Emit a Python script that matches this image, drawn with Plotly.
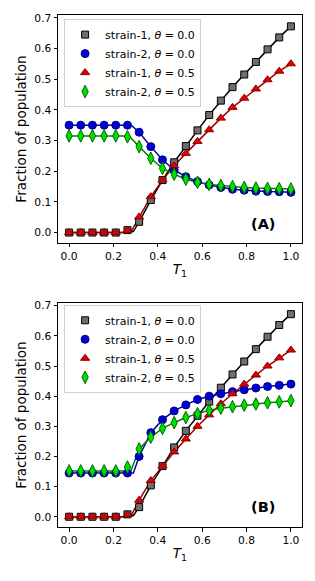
import plotly.graph_objects as go
from plotly.subplots import make_subplots

# ---- data ----
T1 = [0.0, 0.0526, 0.1053, 0.1579, 0.2105, 0.2632, 0.3158, 0.3684, 0.4211, 0.4737,
      0.5263, 0.5789, 0.6316, 0.6842, 0.7368, 0.7895, 0.8421, 0.8947, 0.9474, 1.0]

A_s1_t00 = [0.0, 0.0, 0.0, 0.0, 0.0, 0.008, 0.035, 0.106, 0.171, 0.229,
            0.282, 0.333, 0.383, 0.430, 0.474, 0.515, 0.556, 0.597, 0.636, 0.672]
A_s2_t00 = [0.350, 0.350, 0.350, 0.350, 0.350, 0.350, 0.327, 0.280, 0.237, 0.204,
            0.182, 0.166, 0.155, 0.147, 0.141, 0.138, 0.135, 0.134, 0.133, 0.131]
A_s1_t05 = [0.0, 0.0, 0.0, 0.0, 0.0, 0.007, 0.051, 0.117, 0.171, 0.218,
            0.258, 0.297, 0.335, 0.373, 0.408, 0.438, 0.468, 0.498, 0.526, 0.550]
A_s2_t05 = [0.315, 0.315, 0.315, 0.315, 0.315, 0.312, 0.280, 0.242, 0.209, 0.190,
            0.174, 0.164, 0.157, 0.153, 0.150, 0.147, 0.145, 0.144, 0.143, 0.142]

B_s1_t00 = [0.0, 0.0, 0.0, 0.0, 0.0, 0.008, 0.032, 0.104, 0.168, 0.230,
            0.285, 0.335, 0.382, 0.428, 0.472, 0.515, 0.556, 0.597, 0.636, 0.672]
B_s2_t00 = [0.145, 0.145, 0.145, 0.145, 0.145, 0.145, 0.200, 0.279, 0.322, 0.351,
            0.371, 0.389, 0.400, 0.408, 0.415, 0.421, 0.427, 0.432, 0.436, 0.440]
B_s1_t05 = [0.0, 0.0, 0.0, 0.0, 0.0, 0.007, 0.055, 0.120, 0.168, 0.215,
            0.258, 0.300, 0.338, 0.375, 0.408, 0.440, 0.470, 0.500, 0.527, 0.553]
B_s2_t05 = [0.152, 0.152, 0.152, 0.152, 0.152, 0.165, 0.225, 0.264, 0.293, 0.312,
            0.329, 0.342, 0.353, 0.360, 0.365, 0.370, 0.374, 0.378, 0.381, 0.385]

# onset (kink) points of the solid curves: (T1, value)
A_kinks = [(0.29, 0.004), (0.28, 0.350), (0.28, 0.004), (0.27, 0.315)]
B_kinks = [(0.29, 0.004), (0.29, 0.145), (0.28, 0.004), (0.275, 0.145)]

labels = ["strain-1, <i>θ</i> = 0.0", "strain-2, <i>θ</i> = 0.0",
          "strain-1, <i>θ</i> = 0.5", "strain-2, <i>θ</i> = 0.5"]
x_ticks = [0.0, 0.2, 0.4, 0.6, 0.8, 1.0]
y_ticks = [0.0, 0.1, 0.2, 0.3, 0.4, 0.5, 0.6, 0.7]
panel_labels = ["(A)", "(B)"]

# ---- styles ----
styles = [
    dict(symbol="square", fill="#6e6e6e", edge="black", line="black", size=7),
    dict(symbol="circle", fill="#0000d0", edge="#00008b", line="#0000a0", size=8),
    dict(symbol="triangle-up", fill="#e00000", edge="#8b0000", line="#a00000", size=8),
    dict(symbol="diamond-tall", fill="#00e000", edge="#006400", line="#008000", size=9),
]

FONT = "DejaVu Sans"
fig = make_subplots(rows=2, cols=1)

panels = [([A_s1_t00, A_s2_t00, A_s1_t05, A_s2_t05], A_kinks),
          ([B_s1_t00, B_s2_t00, B_s1_t05, B_s2_t05], B_kinks)]

for r, (series, kinks) in enumerate(panels, start=1):
    for i, ys in enumerate(series):
        st = styles[i]
        kx, ky = kinks[i]
        lx = [t for t in T1 if t < kx] + [kx] + [t for t in T1 if t > kx]
        ly = [y for t, y in zip(T1, ys) if t < kx] + [ky] + [y for t, y in zip(T1, ys) if t > kx]
        if ys[0] == ys[1]:
            ly = [ys[0] if t < kx else v for t, v in zip(lx, ly)]
        fig.add_trace(go.Scatter(x=lx, y=ly, mode="lines",
                                 line=dict(color=st["line"], width=1.5),
                                 showlegend=False, hoverinfo="skip"), row=r, col=1)
    for i, ys in enumerate(series):
        st = styles[i]
        fig.add_trace(go.Scatter(x=T1, y=ys, mode="markers", name=labels[i],
                                 legend="legend" if r == 1 else "legend2",
                                 marker=dict(symbol=st["symbol"], size=st["size"], color=st["fill"],
                                             line=dict(color=st["edge"], width=1))),
                      row=r, col=1)

axis_common = dict(showline=True, linecolor="black", linewidth=1, mirror=True,
                   ticks="outside", ticklen=3.5, tickwidth=1, tickcolor="black",
                   showgrid=False, zeroline=False, automargin=False,
                   tickfont=dict(family=FONT, size=10.7, color="black"))

y_domains = {1: [0.5547, 1.0], 2: [0.0, 0.4375]}
for r in (1, 2):
    fig.update_xaxes(range=[-0.05, 1.05], tickvals=x_ticks,
                     ticktext=[f"{v:.1f}" for v in x_ticks],
                     title=dict(text="<i>T</i><sub>1</sub>", standoff=2,
                                font=dict(family=FONT, size=13.5, color="black")),
                     row=r, col=1, **axis_common)
    fig.update_yaxes(range=[-0.034, 0.709], tickvals=y_ticks, domain=y_domains[r],
                     ticktext=[f"{v:.1f}" for v in y_ticks],
                     title=dict(text="Fraction of population", standoff=4,
                                font=dict(family=FONT, size=13.5, color="black")),
                     row=r, col=1, **axis_common)

legend_common = dict(bgcolor="rgba(255,255,255,0.85)", bordercolor="#d0d0d0", borderwidth=1,
                     font=dict(family=FONT, size=11, color="black"),
                     xanchor="left", yanchor="top", itemwidth=30, tracegroupgap=0)
fig.update_layout(
    width=315, height=581,
    margin=dict(l=58, r=13, t=15, b=54),
    plot_bgcolor="white", paper_bgcolor="white",
    legend=dict(x=0.025, y=0.992, xref="paper", yref="paper", **legend_common),
    legend2=dict(x=0.025, y=0.434, xref="paper", yref="paper", **legend_common),
    showlegend=True,
)

ann_y = {1: 0.083, 2: 0.089}
for r, lab in enumerate(panel_labels, start=1):
    fig.add_annotation(text=f"<b>{lab}</b>", x=0.84, y=ann_y[r],
                       xanchor="center", yanchor="middle",
                       xref=f"x{'' if r == 1 else r} domain",
                       yref=f"y{'' if r == 1 else r} domain", showarrow=False,
                       font=dict(family=FONT, size=14.5, color="black"))

fig.write_html("out.html", config={"displayModeBar": False},
               post_script="document.body.style.margin='0';document.body.style.padding='0';")
